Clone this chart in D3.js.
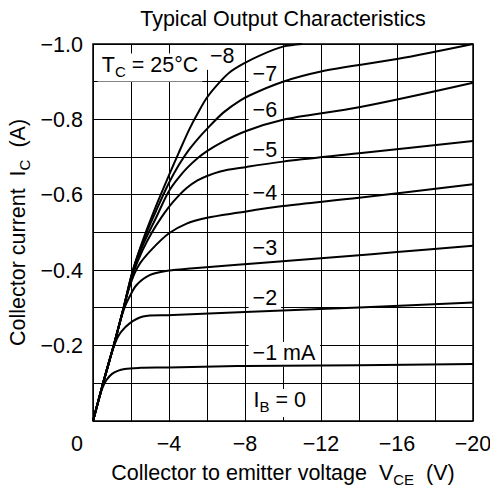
<!DOCTYPE html>
<html>
<head>
<meta charset="utf-8">
<script src="https://cdn.jsdelivr.net/npm/d3@7"></script>
<style>
  body { margin: 0; background: #fff; }
  text { font-family: "Liberation Sans", Arial, Helvetica, sans-serif; fill: #000; white-space: pre; }
</style>
</head>
<body>
<script>

// axis ticks
var vceTicks = [0, -4, -8, -12, -16, -20];
var icTicks = [-0.2, -0.4, -0.6, -0.8, -1.0];

// base current of each curve (mA)
var baseCurrents = [-1, -2, -3, -4, -5, -6, -7, -8];

// curves: [Vce (V), Ic (A)]
var ib1 = [[0,0],[-0.35,-0.066],[-0.5,-0.088],[-0.7,-0.108],[-1.0,-0.125],[-1.3,-0.133],[-1.67,-0.138],[-2.5,-0.141],[-4,-0.142],[-8,-0.146],[-14,-0.148],[-20,-0.151]];
var ib2 = [[0,0],[-0.53,-0.1],[-0.85,-0.16],[-1.1,-0.198],[-1.3,-0.222],[-1.49,-0.237],[-1.93,-0.259],[-2.63,-0.277],[-4.2,-0.281],[-8,-0.289],[-14,-0.301],[-20,-0.314]];
var ib3 = [[0,0],[-0.53,-0.1],[-1.09,-0.2],[-1.4,-0.26],[-1.67,-0.302],[-1.93,-0.33],[-2.28,-0.36],[-2.98,-0.387],[-4,-0.399],[-5.3,-0.405],[-8.3,-0.417],[-12,-0.432],[-16,-0.448],[-20,-0.465]];
var ib4 = [[0,0],[-0.53,-0.1],[-1.09,-0.2],[-1.61,-0.3],[-1.9,-0.352],[-2.2,-0.393],[-2.5,-0.42],[-3.07,-0.454],[-4,-0.498],[-4.9,-0.523],[-6,-0.539],[-7.7,-0.553],[-10,-0.57],[-14,-0.592],[-20,-0.628]];
var ib5 = [[0,0],[-0.53,-0.1],[-1.09,-0.2],[-1.61,-0.3],[-2.1,-0.39],[-2.6,-0.452],[-3.1,-0.5],[-3.6,-0.54],[-4,-0.568],[-4.5,-0.597],[-4.93,-0.618],[-5.5,-0.638],[-6,-0.65],[-6.7,-0.662],[-8.1,-0.674],[-10,-0.688],[-14,-0.71],[-20,-0.743]];
var ib6 = [[0,0],[-0.53,-0.1],[-1.09,-0.2],[-1.61,-0.3],[-2.1,-0.396],[-2.7,-0.475],[-3.3,-0.537],[-4,-0.61],[-4.5,-0.645],[-4.93,-0.67],[-5.5,-0.697],[-6,-0.716],[-6.8,-0.74],[-8.1,-0.77],[-10,-0.799],[-14,-0.832],[-20,-0.897]];
var ib7 = [[0,0],[-0.53,-0.1],[-1.09,-0.2],[-1.61,-0.3],[-2.1,-0.4],[-2.7,-0.485],[-3.3,-0.555],[-4,-0.632],[-4.5,-0.678],[-5,-0.716],[-5.6,-0.753],[-6,-0.775],[-6.86,-0.818],[-7.74,-0.85],[-8.26,-0.864],[-10,-0.9],[-12,-0.927],[-16,-0.96],[-20,-1.0]];
var ib8 = [[0,0],[-0.53,-0.1],[-1.09,-0.2],[-1.61,-0.3],[-2.1,-0.4],[-2.7,-0.49],[-3.3,-0.568],[-4,-0.652],[-4.5,-0.71],[-5.1,-0.777],[-5.5,-0.815],[-6,-0.858],[-6.6,-0.895],[-7.2,-0.925],[-8,-0.95],[-8.8,-0.97],[-10,-0.993],[-11,-1.0]];
var curves = [ib1, ib2, ib3, ib4, ib5, ib6, ib7, ib8];

// curve labels, anchored in data units [Vce, Ic]
var curveLabels = [
    {parts: [['\u22128']], at: [-6.16, -0.95]},
    {parts: [['\u22127']], at: [-8.4, -0.902]},
    {parts: [['\u22126']], at: [-8.4, -0.806]},
    {parts: [['\u22125']], at: [-8.4, -0.700]},
    {parts: [['\u22124']], at: [-8.4, -0.586]},
    {parts: [['\u22123']], at: [-8.4, -0.44]},
    {parts: [['\u22122']], at: [-8.4, -0.308]},
    {parts: [['\u22121 mA']], at: [-8.4, -0.162]},
    {parts: [['I'], ['B', 'sub'], [' = 0']], at: [-8.45, -0.037]},
    {parts: [['T'], ['C', 'sub'], [' = 25\u00b0C']], at: [-0.46, -0.927]}
];

var width = 490, height = 487,
    margin = {top: 44, right: 17, bottom: 66, left: 93},
    fontSize = 21.5,
    subSize = 15;

var svg = d3.select('body').append('svg')
    .attr('width', width)
    .attr('height', height);

var x = d3.scaleLinear().domain([0, -20]).range([margin.left, width - margin.right]);
var y = d3.scaleLinear().domain([0, -1]).range([height - margin.bottom, margin.top]);

// grid every 2 V and every 0.1 A
var grid = svg.append('g')
    .attr('stroke', '#000')
    .attr('stroke-width', 1)
    .attr('shape-rendering', 'crispEdges');
grid.selectAll('line.v')
    .data(d3.range(0, -20.01, -2))
    .enter().append('line')
        .attr('x1', function(d) { return x(d); })
        .attr('x2', function(d) { return x(d); })
        .attr('y1', y(0))
        .attr('y2', y(-1));
grid.selectAll('line.h')
    .data(d3.range(0, -1.001, -0.1))
    .enter().append('line')
        .attr('x1', x(0))
        .attr('x2', x(-20))
        .attr('y1', function(d) { return y(d); })
        .attr('y2', function(d) { return y(d); });

var bgLayer = svg.append('g');
var curveLayer = svg.append('g');
var labelLayer = svg.append('g');

// characteristic curves
var line = d3.line()
    .x(function(d) { return x(d[0]); })
    .y(function(d) { return y(d[1]); })
    .curve(d3.curveCatmullRom.alpha(0.5));

curveLayer.selectAll('path')
    .data(curves)
    .enter().append('path')
        .attr('class', function(d, i) { return 'ib' + (-baseCurrents[i]); })
        .attr('d', line)
        .attr('fill', 'none')
        .attr('stroke', '#000')
        .attr('stroke-width', 2);

// write text made of normal and subscript parts
function richText(sel, parts) {
    parts.forEach(function(p, i) {
        var t = sel.append('tspan').text(p[0]);
        if (p[1] == 'sub') {
            t.attr('font-size', subSize).attr('dy', 5);
        } else if (i > 0 && parts[i-1][1] == 'sub') {
            t.attr('dy', -5);
        }
    });
}

curveLabels.forEach(function(l) {
    var t = labelLayer.append('text')
        .attr('x', x(l.at[0]))
        .attr('y', y(l.at[1]))
        .attr('font-size', fontSize);
    richText(t, l.parts);
    // white box behind the label hides the grid
    var b = t.node().getBBox();
    bgLayer.append('rect')
        .attr('x', b.x - 4)
        .attr('y', b.y + 1)
        .attr('width', b.width + 8)
        .attr('height', b.height + 1)
        .attr('fill', '#fff');
});

// frame
svg.append('rect')
    .attr('x', x(0))
    .attr('y', y(-1))
    .attr('width', x(-20) - x(0))
    .attr('height', y(0) - y(-1))
    .attr('fill', 'none')
    .attr('stroke', '#000')
    .attr('stroke-width', 1.5);

// tick labels
var fmtY = d3.format('.1f');
svg.append('g').selectAll('text')
    .data(icTicks)
    .enter().append('text')
        .attr('x', x(0) - 10)
        .attr('y', function(d) { return y(d) + 7.5; })
        .attr('text-anchor', 'end')
        .attr('font-size', fontSize)
        .text(function(d) { return fmtY(d); });

svg.append('g').selectAll('text')
    .data(vceTicks)
    .enter().append('text')
        .attr('x', function(d) { return d == 0 ? x(d) - 10 : x(d); })
        .attr('y', y(0) + 30)
        .attr('text-anchor', function(d) { return d == 0 ? 'end' : 'middle'; })
        .attr('font-size', fontSize)
        .text(function(d) { return d3.format('d')(d); });

// titles
svg.append('text')
    .attr('x', (x(0) + x(-20)) / 2)
    .attr('y', 26)
    .attr('text-anchor', 'middle')
    .attr('font-size', fontSize)
    .text('Typical Output Characteristics');

var xt = svg.append('text')
    .attr('x', (x(0) + x(-20)) / 2)
    .attr('y', 480)
    .attr('text-anchor', 'middle')
    .attr('font-size', fontSize);
richText(xt, [['Collector to emitter voltage\u00a0\u00a0V'], ['CE', 'sub'], ['\u00a0\u00a0(V)']]);

var yt = svg.append('text')
    .attr('transform', 'translate(25,' + ((y(0) + y(-1)) / 2) + ') rotate(-90)')
    .attr('text-anchor', 'middle')
    .attr('font-size', fontSize);
richText(yt, [['Collector current\u00a0\u00a0I'], ['C', 'sub'], ['\u00a0\u00a0(A)']]);

</script>
</body>
</html>
